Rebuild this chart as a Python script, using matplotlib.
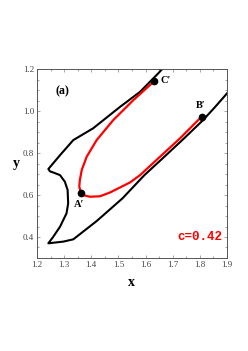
import matplotlib
matplotlib.use("Agg")
from matplotlib import pyplot as plt
from matplotlib.ticker import MultipleLocator

# boundary of the region (black curve)
bound_x = [1.661, 1.647, 1.580, 1.506, 1.407, 1.334, 1.285, 1.242,
           1.248, 1.265, 1.285, 1.303, 1.313, 1.315, 1.309, 1.285, 1.260,
           1.242, 1.297, 1.334, 1.420, 1.515, 1.596, 1.669, 1.742, 1.812,
           1.858, 1.900]
bound_y = [1.200, 1.180, 1.092, 1.020, 0.918, 0.862, 0.790, 0.724,
           0.713, 0.705, 0.695, 0.663, 0.624, 0.560, 0.513, 0.449, 0.401,
           0.370, 0.378, 0.389, 0.476, 0.584, 0.695, 0.782, 0.870, 0.957,
           1.022, 1.084]

# red curve for c = 0.42
red_x = [1.631, 1.623, 1.555, 1.481, 1.420, 1.383, 1.365, 1.358, 1.356,
         1.362, 1.375, 1.395, 1.432, 1.469, 1.506, 1.543, 1.580, 1.653,
         1.727, 1.794, 1.807]
red_y = [1.144, 1.132, 1.052, 0.957, 0.862, 0.782, 0.719, 0.671, 0.640,
         0.611, 0.598, 0.592, 0.594, 0.612, 0.636, 0.660, 0.695, 0.782,
         0.870, 0.957, 0.973]

# labelled points
pt_names = ["A\u2032", "B\u2032", "C\u2032"]
pt_x = [1.362, 1.807, 1.631]
pt_y = [0.611, 0.973, 1.144]

fig = plt.figure(figsize=(2.48, 3.51), dpi=100)
ax = fig.add_axes([0.149, 0.265, 0.766, 0.538])

ax.plot(bound_x, bound_y, color="black", lw=1.5, solid_joinstyle="round")
ax.plot(red_x, red_y, color="red", lw=1.6, solid_joinstyle="round")
ax.plot(pt_x, pt_y, "o", color="black", ms=4.5)

serif = "Liberation Serif"
ax.text(pt_x[0] - 0.005, pt_y[0] - 0.035, pt_names[0], fontsize=7.5,
        fontweight="bold", family=serif, ha="center", va="top")
ax.text(pt_x[1] - 0.005, pt_y[1] + 0.03, pt_names[1], fontsize=7.5,
        fontweight="bold", family=serif, ha="center", va="bottom")
ax.text(pt_x[2] + 0.025, pt_y[2], pt_names[2], fontsize=7.5,
        fontweight="bold", family=serif, ha="left", va="center")
ax.text(1.295, 1.095, "(a)", fontsize=8.5, fontweight="bold", family=serif,
        ha="center", va="center")
ax.text(1.885, 0.40, "c=0.42", fontsize=9, fontweight="bold",
        family="Liberation Mono", color="red", ha="right", va="center")

ax.set_xlim(1.2, 1.9)
ax.set_ylim(0.3, 1.2)
ax.xaxis.set_minor_locator(MultipleLocator(0.05))
ax.yaxis.set_minor_locator(MultipleLocator(0.05))
ax.set_xticks([1.2, 1.3, 1.4, 1.5, 1.6, 1.7, 1.8, 1.9])
ax.set_xticklabels(["1.2", "1.3", "1.4", "1.5", "1.6", "1.7", "1.8", "1.9"])
ax.set_yticks([0.4, 0.6, 0.8, 1.0, 1.2])
ax.set_yticklabels(["0.4", "0.6", "0.8", "1.0", "1.2"])
ax.tick_params(which="both", direction="in", top=True, right=True,
               labelsize=6.5, pad=2, width=0.5, color="gray")
ax.tick_params(which="major", length=2.5)
ax.tick_params(which="minor", length=1.2)
for lab in ax.get_xticklabels() + ax.get_yticklabels():
    lab.set_family(serif)
    lab.set_color("#444444")
for sp in ax.spines.values():
    sp.set_linewidth(0.7)
    sp.set_color("#555555")

ax.set_xlabel("x", fontsize=10, fontweight="bold", family=serif, labelpad=5)
ax.set_ylabel("y", fontsize=10, fontweight="bold", family=serif,
              rotation=0, labelpad=5, va="center")

fig.savefig("out.png", dpi=100)
